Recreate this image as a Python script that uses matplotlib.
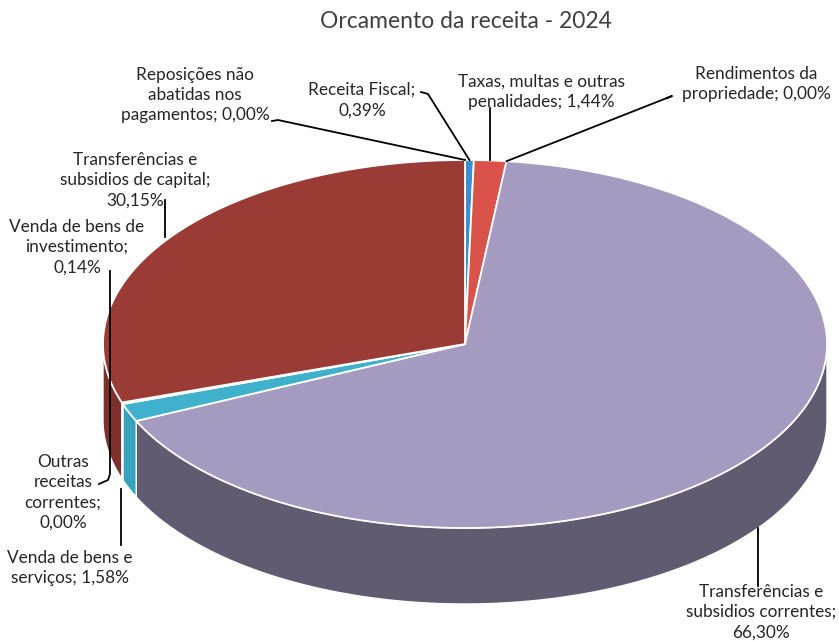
import numpy as np
import matplotlib
matplotlib.use("Agg")
from matplotlib import pyplot as plt
from matplotlib.patches import Polygon

plt.rcParams['font.family'] = ['Lato', 'DejaVu Sans']

# slices, clockwise from 12 o'clock
names = ["Receita Fiscal", "Taxas, multas e outras\npenalidades", "Rendimentos da\npropriedade",
         "Transferências e\nsubsidios correntes", "Venda de bens e\nserviços", "Outras\nreceitas\ncorrentes",
         "Venda de bens de\ninvestimento", "Transferências e\nsubsidios de capital",
         "Reposições não\nabatidas nos\npagamentos"]
values = [0.39, 1.44, 0.00, 66.30, 1.58, 0.00, 0.14, 30.15, 0.00]
seps = ["\n", " ", " ", "\n", " ", "\n", "\n", "\n", " "]
top_colors = ["#3d8fd1", "#d9534b", "#7f7f7f", "#a59abf", "#3fb1cc", "#7f7f7f", "#5b9bd5", "#9a3b36", "#7f7f7f"]
side_colors = ["#3078b4", "#b8433d", "#666666", "#615b72", "#35a2be", "#666666", "#4a86bd", "#7e2f2b", "#666666"]

# pie geometry in pixel coordinates
cx, cy = 465, 344
rx, ry = 362, 184
depth = 76

# label layout: text centre, leader points from the text (None = the slice anchor),
# "vert" = leader drops vertically to the anchor's height, "low" = anchor at bottom of side wall
layout = [
    dict(xy=(362, 100), pts=[(421, 92), (428, 94)], vert=False, low=False),
    dict(xy=(541, 92), pts=[], vert=False, low=False, top=108),
    dict(xy=(756, 84), pts=[(667, 98), (672, 96)], vert=False, low=False),
    dict(xy=(761, 612), pts=[(758, 586)], vert=True, low=True),
    dict(xy=(70, 568), pts=[(121, 545)], vert=True, low=True),
    dict(xy=(63, 492), pts=[(99, 484), (108, 480), (110, 474)], vert=True, low=False),
    dict(xy=(77, 247), pts=[(110, 271)], vert=True, low=False),
    dict(xy=(135, 180), pts=[(165, 200)], vert=True, low=False),
    dict(xy=(195, 95), pts=[(272, 121), (278, 120)], vert=False, low=False),
]


def rim(t):
    a = np.radians(90 - t)
    return cx + rx * np.cos(a), cy - ry * np.sin(a)


fig = plt.figure(figsize=(8.39, 6.42), dpi=100)
ax = fig.add_axes([0, 0, 1, 1])
ax.set_xlim(0, 839)
ax.set_ylim(642, 0)
ax.axis("off")

bounds = np.concatenate([[0], np.cumsum(values)]) / sum(values) * 360

# side walls (front half only)
for i, v in enumerate(values):
    if v <= 0:
        continue
    t0, t1 = max(bounds[i], 90), min(bounds[i + 1], 270)
    if t1 <= t0:
        continue
    ts = np.linspace(t0, t1, 100)
    xs, ys = rim(ts)
    pts = np.vstack([np.column_stack([xs, ys]), np.column_stack([xs[::-1], ys[::-1] + depth])])
    ax.add_patch(Polygon(pts, closed=True, facecolor=side_colors[i], edgecolor="white", lw=1.0, zorder=2))

# top faces
for i, v in enumerate(values):
    if v <= 0:
        continue
    ts = np.linspace(bounds[i], bounds[i + 1], max(int(v * 6), 4))
    xs, ys = rim(ts)
    pts = np.vstack([[cx, cy], np.column_stack([xs, ys])])
    ax.add_patch(Polygon(pts, closed=True, facecolor=top_colors[i], edgecolor="white", lw=1.3, zorder=3))

# labels with leader lines
for i, v in enumerate(values):
    lay = layout[i]
    txt = names[i] + ";" + seps[i] + f"{v:.2f}%".replace(".", ",")
    ax.text(lay["xy"][0], lay["xy"][1], txt, ha="center", va="center", fontsize=12.4,
            color="#262626", linespacing=1.33, zorder=5)
    mid = (bounds[i] + bounds[i + 1]) / 2
    px, py = rim(mid)
    if lay["low"]:
        py = py + depth
    pts = list(lay["pts"])
    if not pts:
        pts = [(px, lay["top"])]
    if lay["vert"]:
        pts.append((pts[-1][0], py))
    else:
        pts.append((px, py))
    xs_, ys_ = zip(*pts)
    ax.plot(xs_, ys_, color="black", lw=1.3, zorder=4)

ax.text(466, 22, "Orcamento da receita - 2024", ha="center", va="center", fontsize=16.5, color="#404040")

fig.savefig("out.png", dpi=100)
